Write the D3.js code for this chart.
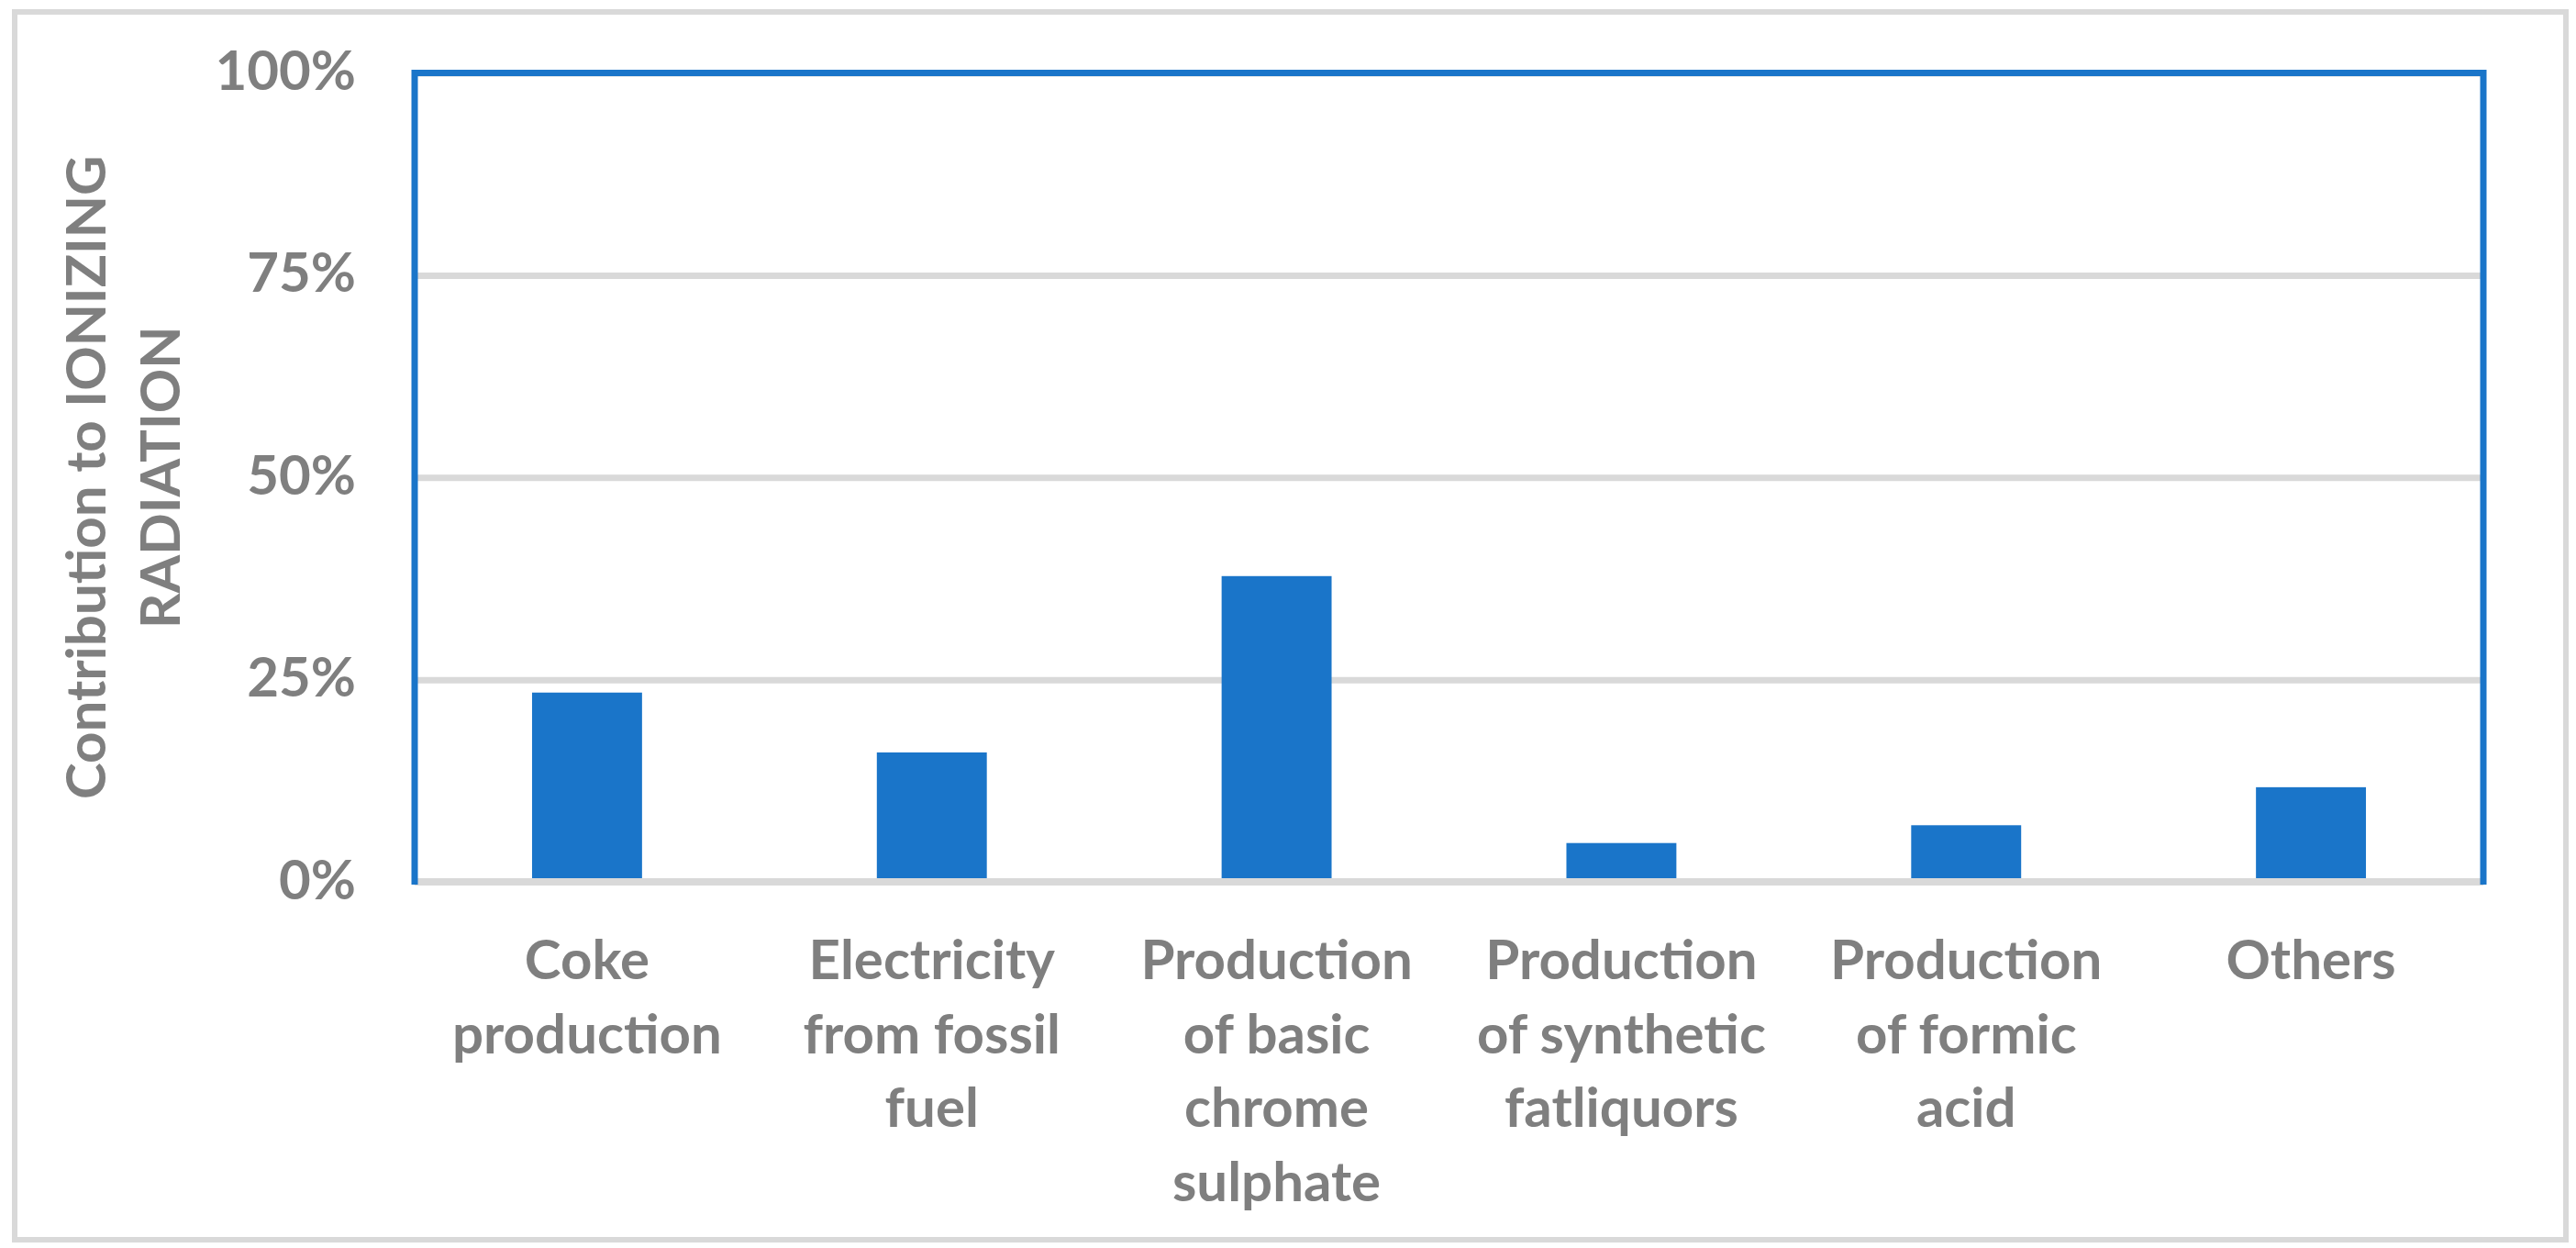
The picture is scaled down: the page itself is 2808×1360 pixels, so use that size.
<!DOCTYPE html>
<html>
<head>
<meta charset="utf-8">
<script src="https://cdn.jsdelivr.net/npm/d3@7/dist/d3.min.js"></script>
<style>
  html, body { margin: 0; padding: 0; background: #ffffff; }
  svg { display: block; }
  text { font-family: Lato, "Open Sans", sans-serif; font-weight: 700; fill: #7f7f7f; }
</style>
</head>
<body>
<svg id="chart" width="2808" height="1360"></svg>
<script>
// ---- Data ----
const categories = [
  "Coke production",
  "Electricity from fossil fuel",
  "Production of basic chrome sulphate",
  "Production of synthetic fatliquors",
  "Production of formic acid",
  "Others"
];
const categoryLines = [
  ["Coke", "production"],
  ["Electricity", "from fossil", "fuel"],
  ["Production", "of basic", "chrome", "sulphate"],
  ["Production", "of synthetic", "fatliquors"],
  ["Production", "of formic", "acid"],
  ["Others"]
];
const values = [0.234, 0.160, 0.378, 0.048, 0.070, 0.117];
const yTicks = [0, 0.25, 0.5, 0.75, 1];
const yTitleLines = ["Contribution to IONIZING", "RADIATION"];

// ---- Layout ----
const W = 2808, H = 1360;
const plot = { left: 452, right: 2707, top: 79.5, bottom: 961 };
const blue = "#1a75c9", grid = "#d9d9d9", textCol = "#7f7f7f";

const svg = d3.select("#chart");

// outer chart border
svg.append("rect")
  .attr("x", 16).attr("y", 13)
  .attr("width", 2781).attr("height", 1338)
  .attr("fill", "#ffffff")
  .attr("stroke", grid).attr("stroke-width", 6);

const x = d3.scaleBand()
  .domain(categories)
  .range([plot.left, plot.right])
  .paddingInner(0.681).paddingOuter(0.3405);

const y = d3.scaleLinear().domain([0, 1]).range([plot.bottom, plot.top]);

// gridlines
const gridG = svg.append("g")
  .attr("transform", `translate(${plot.left},0)`)
  .call(d3.axisLeft(y).tickValues(yTicks.slice(1)).tickSize(-(plot.right - plot.left)).tickFormat(""));
gridG.select(".domain").remove();
gridG.selectAll(".tick line").attr("stroke", grid).attr("stroke-width", 7);

// bars
svg.append("g").selectAll("rect")
  .data(values)
  .join("rect")
  .attr("x", (d, i) => x(categories[i]))
  .attr("width", x.bandwidth())
  .attr("y", d => y(d))
  .attr("height", d => y(0) - y(d))
  .attr("fill", blue);

// baseline (category axis line)
svg.append("line")
  .attr("x1", plot.left).attr("x2", plot.right)
  .attr("y1", y(0)).attr("y2", y(0))
  .attr("stroke", grid).attr("stroke-width", 8);

// plot area frame (blue) - left, top, right
svg.append("path")
  .attr("d", `M${plot.left},${plot.bottom + 3}V${plot.top}H${plot.right}V${plot.bottom + 3}`)
  .attr("fill", "none")
  .attr("stroke", blue).attr("stroke-width", 7);

// y axis tick labels
const yAxisG = svg.append("g")
  .attr("transform", `translate(${plot.left},0)`)
  .call(d3.axisLeft(y).tickValues(yTicks).tickSize(0).tickPadding(64).tickFormat(d3.format(".0%")));
yAxisG.select(".domain").remove();
yAxisG.selectAll(".tick text")
  .attr("font-size", 60)
  .attr("fill", textCol)
  .attr("dy", "0.3em")
  .style("font-family", "Lato, 'Open Sans', sans-serif")
  .style("font-weight", 700);

// category labels
const lineH = 80.5, firstBase = 1067;
const catG = svg.append("g");
categories.forEach((c, i) => {
  const t = catG.append("text")
    .attr("text-anchor", "middle")
    .attr("font-size", 60)
    .attr("x", x(c) + x.bandwidth() / 2)
    .attr("y", firstBase);
  categoryLines[i].forEach((ln, j) => {
    t.append("tspan")
      .attr("x", x(c) + x.bandwidth() / 2)
      .attr("y", firstBase + j * lineH)
      .text(ln);
  });
});

// y axis title
const titleX = [115, 196];
const titleCy = (plot.top + plot.bottom) / 2;
yTitleLines.forEach((ln, i) => {
  svg.append("text")
    .attr("transform", `translate(${titleX[i]},${titleCy}) rotate(-90)`)
    .attr("text-anchor", "middle")
    .attr("font-size", 60)
    .text(ln);
});
</script>
</body>
</html>
